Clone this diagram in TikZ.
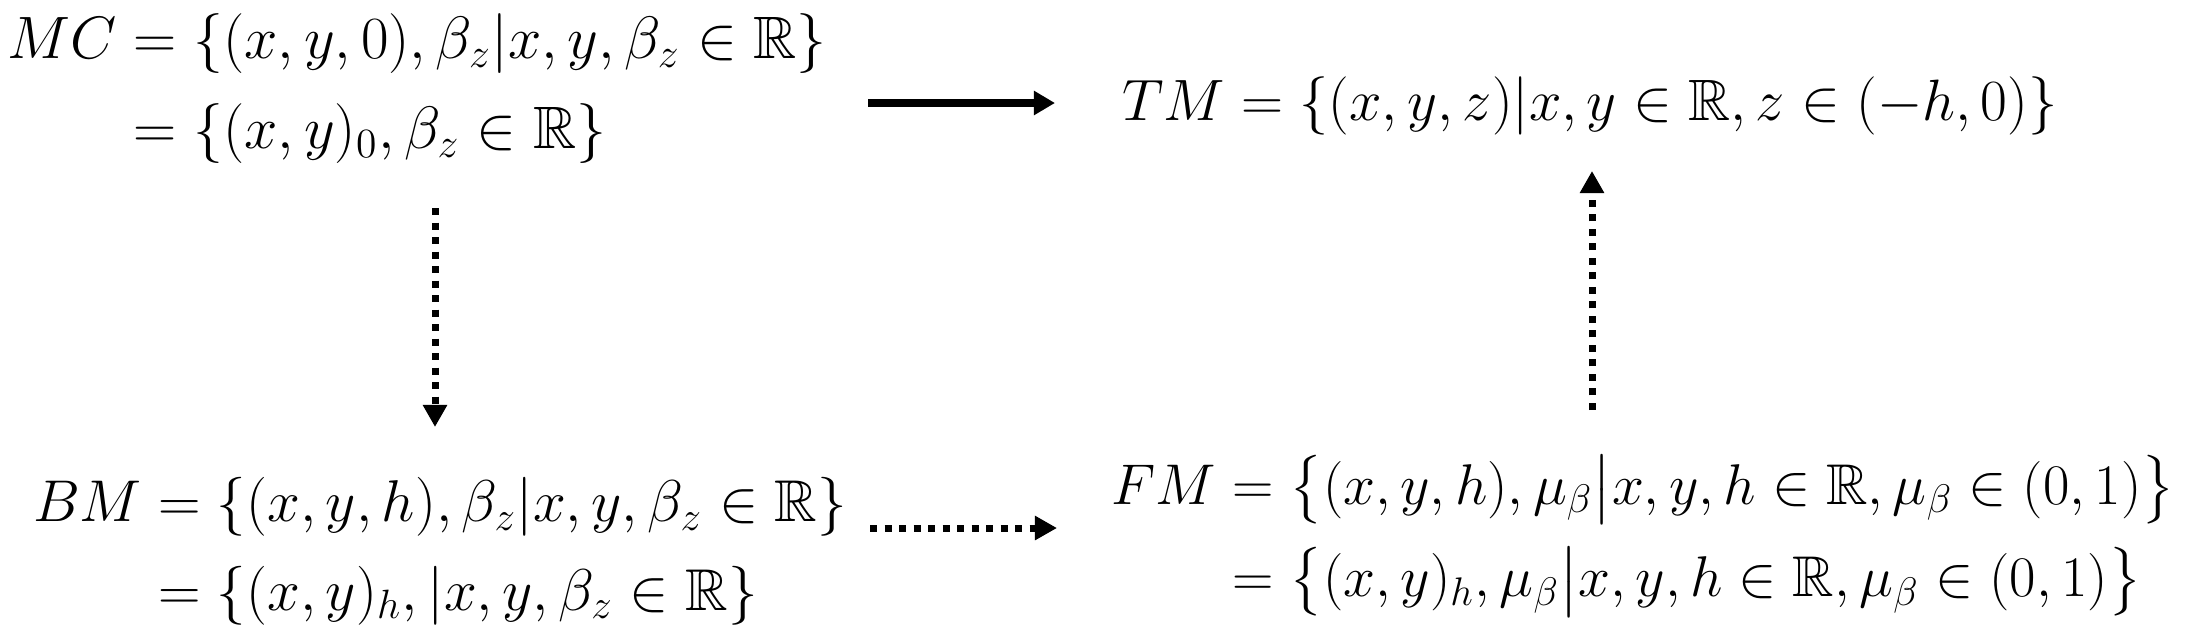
\documentclass[tikz,border=0pt]{standalone}
\usepackage{amsmath,amssymb}
\usetikzlibrary{arrows.meta}
\begin{document}
\begin{tikzpicture}[x=0.01cm,y=-0.01cm,
  eq/.style={inner sep=0pt,outer sep=0pt,font=\fontsize{17.28}{20}\selectfont,transform shape},
  solidarr/.style={line width=0.085cm,-{Triangle[length=0.21cm,width=0.23cm]}},
  dotarr/.style={line width=0.07cm,dash pattern=on 0.07cm off 0.075cm,-{Triangle[length=0.22cm,width=0.23cm]}}]
\useasboundingbox (0,0) rectangle (2193,633);
\setlength{\jot}{6pt}
\node[eq,scale=0.985,anchor=west] (mc) at (8,90) {$\begin{aligned}MC &= \{(x,y,0),\beta_z|x,y,\beta_z\in\mathbb{R}\}\\ &=\{(x,y)_0,\beta_z\in\mathbb{R}\}\end{aligned}$};
\node[eq,scale=0.96,anchor=base] (tm) at (1590,120) {$TM=\{(x,y,z)|x,y\in\mathbb{R},z\in(-h,0)\}$};
\node[eq,scale=0.97,anchor=west] (bm) at (33,552) {$\begin{aligned}BM &= \{(x,y,h),\beta_z|x,y,\beta_z\in\mathbb{R}\}\\ &=\{(x,y)_h,|x,y,\beta_z\in\mathbb{R}\}\end{aligned}$};
\node[eq,scale=0.945,anchor=east] (fm) at (2175,536) {$\begin{aligned}FM &= \bigl\{(x,y,h),\mu_\beta\big|x,y,h\in\mathbb{R},\mu_\beta\in(0,1)\bigr\}\\ &=\bigl\{(x,y)_h,\mu_\beta\big|x,y,h\in\mathbb{R},\mu_\beta\in(0,1)\bigr\}\end{aligned}$};
\coordinate (s1) at (868,103);
\coordinate (e1) at (1055,103);
\coordinate (s2) at (435,208);
\coordinate (e2) at (435,427);
\coordinate (s3) at (870,528);
\coordinate (e3) at (1057,528);
\coordinate (s4) at (1592,410);
\coordinate (e4) at (1592,171);
\draw[solidarr] (s1) -- (e1);
\draw[dotarr] (s2) -- (e2);
\draw[dotarr] (s3) -- (e3);
\draw[dotarr] (s4) -- (e4);
\end{tikzpicture}
\end{document}
